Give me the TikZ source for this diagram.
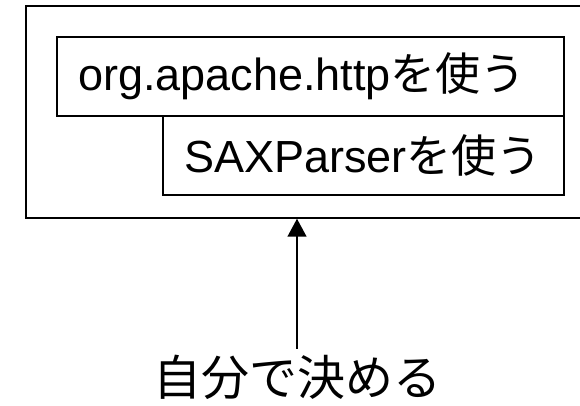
\documentclass[tikz,border=0pt]{standalone}
\usepackage{fontspec}
\setmainfont{Liberation Sans}
\newfontfamily\jpfont{Noto Sans CJK JP}
\usetikzlibrary{positioning, arrows.meta}

\begin{document}
\begin{tikzpicture}[
    x=1pt, y=1pt,
    font=\fontsize{45}{54}\selectfont,
    frame/.style={
        rectangle,
        draw=black,
        line width=1.5pt,
        minimum width=564pt,
        minimum height=212pt
    },
    usebox/.style={
        rectangle,
        draw=black,
        fill=white,
        line width=1.5pt,
        inner xsep=21pt,
        inner ysep=0pt,
        minimum height=79pt,
        align=left
    },
    arrow/.style={-{Triangle[width=19pt, length=18pt]}, line width=1.5pt, draw=black},
    labelstyle/.style={font=\fontsize{48}{56}\selectfont\jpfont, inner sep=0pt}
]

% Rahmen (rechts abgeschnitten)
\clip (0,0) rectangle (580,406);

\node[frame] (rahmen) at (308,294) {};

% Bibliotheken
\node[usebox, text width=465pt] (http) at (310.5,329.5) {org.apache.http{\jpfont を使う}};
\node[usebox, text width=359pt] (sax) at (363.5,250.5) {SAXParser{\jpfont を使う}};

% Entscheidung
\node[labelstyle] (selbst) at (297,29) {自分で決める};

\draw[arrow] ([yshift=6pt]selbst.north) -- (selbst.north |- rahmen.south);

\end{tikzpicture}
\end{document}
